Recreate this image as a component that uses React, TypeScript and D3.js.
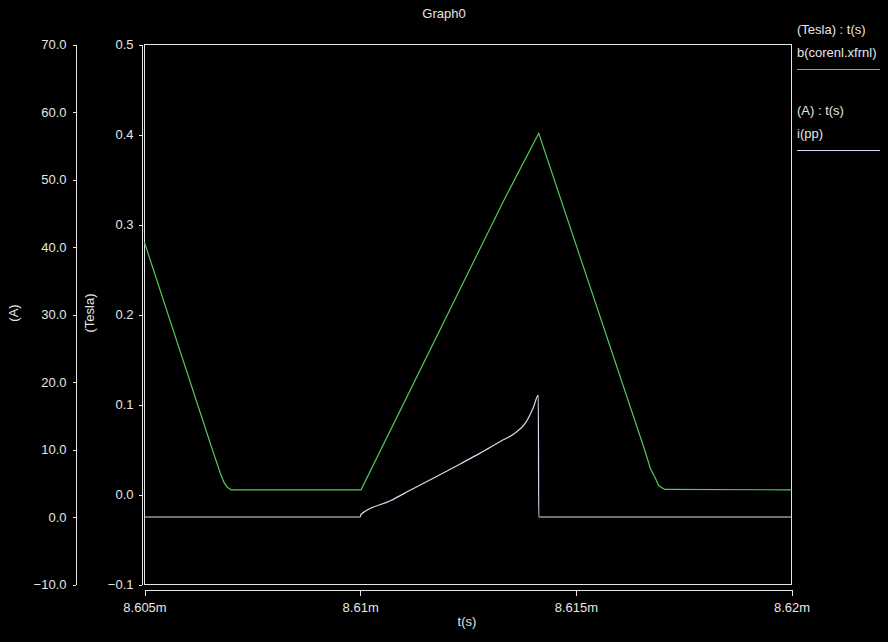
import React, { useEffect, useRef } from 'react';
import * as d3 from 'd3';

// Series (time in ms)
const fluxTime = [8.605, 8.60658, 8.60676, 8.60684, 8.60692, 8.60701, 8.61002, 8.61333, 8.61414, 8.6166, 8.61673, 8.61685, 8.61692, 8.61706, 8.62];
const fluxValue = [0.28, 0.0489, 0.0233, 0.0137, 0.0081, 0.0052, 0.0052, 0.3267, 0.4014, 0.0489, 0.0286, 0.0174, 0.01, 0.0056, 0.0052];

const currentTime = [8.605, 8.61, 8.61002, 8.6107, 8.61117, 8.61233, 8.61279, 8.61325, 8.61356, 8.61383, 8.61402, 8.61413, 8.61414, 8.62];
const currentValue = [0, 0, 0.4, 2.4, 4.0, 7.9, 9.5, 11.2, 12.3, 13.9, 16.3, 18.05, 0, 0];

const timeTicks = [8.605, 8.61, 8.615, 8.62];
const fluxTicks = [-0.1, 0, 0.1, 0.2, 0.3, 0.4, 0.5];
const currentTicks = [-10, 0, 10, 20, 30, 40, 50, 60, 70];

const App: React.FC = () => {
    const chartRef = useRef<SVGSVGElement>(null);

    useEffect(() => {
        if (!chartRef.current) return;
        d3.select(chartRef.current).selectAll('*').remove();

        const width = 888;
        const height = 642;
        const fg = '#e6e6e6';
        const font = '"Liberation Sans", Arial, sans-serif';

        const svg = d3.select(chartRef.current)
            .attr('width', width)
            .attr('height', height)
            .style('background', '#000')
            .attr('font-family', font);

        svg.append('rect').attr('width', width).attr('height', height).attr('fill', '#000');

        const x = d3.scaleLinear().domain([8.605, 8.62]).range([144.5, 791.5]);
        const yB = d3.scaleLinear().domain([-0.1, 0.5]).range([584.5, 44.5]);
        const yA = d3.scaleLinear().domain([-10, 70]).range([584.5, 44.5]);

        const styleAxis = (g: d3.Selection<SVGGElement, unknown, null, undefined>) => {
            g.selectAll('path, line').attr('stroke', fg).attr('shape-rendering', 'crispEdges');
            g.selectAll('text').attr('fill', fg).attr('font-size', 13).attr('font-family', font);
        };

        // Current axis (A)
        svg.append('g')
            .attr('transform', 'translate(75.5,0)')
            .call(d3.axisLeft(yA).tickValues(currentTicks).tickFormat(d3.format('.1f')).tickSize(3).tickSizeOuter(0).tickPadding(6))
            .call(styleAxis);

        // Flux axis (Tesla)
        svg.append('g')
            .attr('transform', 'translate(141.5,0)')
            .call(d3.axisLeft(yB).tickValues(fluxTicks).tickFormat(d3.format('.1f')).tickSize(3).tickSizeOuter(0).tickPadding(5))
            .call(styleAxis);

        // Time axis
        svg.append('g')
            .attr('transform', 'translate(0,589.5)')
            .call(d3.axisBottom(x).tickValues(timeTicks).tickFormat(d => `${+(+d).toFixed(3)}m`).tickSize(6).tickSizeOuter(0).tickPadding(7))
            .call(styleAxis);

        // Plot frame
        svg.append('rect')
            .attr('x', x.range()[0])
            .attr('y', yB.range()[1])
            .attr('width', x.range()[1] - x.range()[0])
            .attr('height', yB.range()[0] - yB.range()[1])
            .attr('fill', 'none')
            .attr('stroke', fg)
            .attr('shape-rendering', 'crispEdges');

        const green = '#55c855';
        const pink = '#e4d4f2';

        const fluxLine = d3.line<number>()
            .x((_, i) => x(fluxTime[i]))
            .y(d => yB(d));
        const currentLine = d3.line<number>()
            .x((_, i) => x(currentTime[i]))
            .y(d => yA(d))
            .curve(d3.curveMonotoneX);

        svg.append('path')
            .datum(currentValue)
            .attr('d', currentLine)
            .attr('fill', 'none')
            .attr('stroke', pink)
            .attr('stroke-width', 1.2);

        svg.append('path')
            .datum(fluxValue)
            .attr('d', fluxLine)
            .attr('fill', 'none')
            .attr('stroke', green)
            .attr('stroke-width', 1.2);

        // Titles
        svg.append('text')
            .attr('x', 444).attr('y', 18)
            .attr('text-anchor', 'middle')
            .attr('font-size', 13).attr('fill', fg)
            .text('Graph0');

        svg.append('text')
            .attr('x', 467).attr('y', 626)
            .attr('text-anchor', 'middle')
            .attr('font-size', 13).attr('fill', fg)
            .text('t(s)');

        svg.append('text')
            .attr('transform', 'translate(18,313) rotate(-90)')
            .attr('text-anchor', 'middle')
            .attr('font-size', 13).attr('fill', fg)
            .text('(A)');

        svg.append('text')
            .attr('transform', 'translate(94,313) rotate(-90)')
            .attr('text-anchor', 'middle')
            .attr('font-size', 13).attr('fill', fg)
            .text('(Tesla)');

        // Legend
        const legend = [
            { head: '(Tesla) : t(s)', name: 'b(corenl.xfrnl)', color: green, y: 34 },
            { head: '(A) : t(s)', name: 'i(pp)', color: pink, y: 115 }
        ];
        legend.forEach(l => {
            svg.append('text').attr('x', 797).attr('y', l.y)
                .attr('font-size', 13).attr('fill', fg).text(l.head);
            svg.append('text').attr('x', 797).attr('y', l.y + 23)
                .attr('font-size', 13).attr('fill', fg).text(l.name);
            svg.append('line')
                .attr('x1', 797).attr('x2', 880)
                .attr('y1', l.y + 35.5).attr('y2', l.y + 35.5)
                .attr('stroke', l.color)
                .attr('shape-rendering', 'crispEdges');
        });
    }, []);

    return (
        <div style={{ position: 'absolute', left: 0, top: 0, background: '#000' }}>
            <svg ref={chartRef} style={{ display: 'block' }}></svg>
        </div>
    );
};

export default App;
